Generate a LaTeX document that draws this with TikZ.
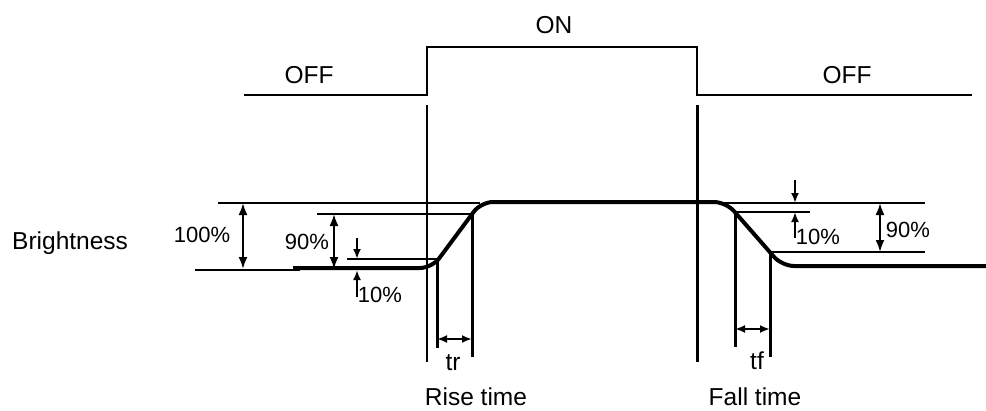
\documentclass[tikz,border=0pt]{standalone}
\usepackage{fontspec}
\setmainfont{Liberation Sans}
\usetikzlibrary{arrows.meta}
\begin{document}
\begin{tikzpicture}[x=1pt,y=-1pt,
  thinln/.style={line width=2.1pt},
  markln/.style={line width=3pt},
  thickln/.style={line width=4pt},
  dim/.style={line width=2pt,{Latex[length=12pt,width=9pt]}-{Latex[length=12pt,width=9pt]}},
  hdim/.style={line width=2pt,{Latex[length=10pt,width=8pt]}-{Latex[length=10pt,width=8pt]}},
  onearrow/.style={line width=2pt,-{Latex[length=10pt,width=8pt]}},
  lbl/.style={inner sep=0pt,font=\fontsize{24.5}{28}\selectfont},
  pct/.style={inner sep=0pt,font=\fontsize{22}{26}\selectfont}]
\useasboundingbox (0,0) rectangle (986,410);
% top signal
\draw[line width=2.5pt] (244,95) -- (427,95) -- (427,47) -- (697,47) -- (697,95) -- (972,95);
\node[lbl] (offl) at (309,75) {OFF};
\node[lbl] (on) at (554,25) {ON};
\node[lbl] (offr) at (847,75) {OFF};
% vertical markers
\draw[line width=1.8pt] (427,105) -- (427,362);
\draw[markln] (697,105) -- (697,362);
\draw[markln] (437,262) -- (437,348);
\draw[markln] (472,212) -- (472,357);
\draw[markln] (735,212) -- (735,347);
\draw[markln] (770,252) -- (770,357);
% level lines
\draw[thinln] (195,270) -- (300,270);
\draw[thinln] (218,203) -- (480,203);
\draw[thinln] (317,214) -- (470,214);
\draw[thinln] (347,259) -- (437,259);
\draw[thinln] (715,203) -- (925,203);
\draw[thinln] (735,212) -- (810,212);
\draw[thinln] (770,252) -- (925,252);
% brightness curve
\draw[thickln,rounded corners=12pt] (293,268) -- (432,268) -- (481,202) -- (726,202) -- (782,266) -- (986,266);
% dimension arrows
\coordinate (a1) at (243,203); \coordinate (a2) at (243,269);
\draw[dim] (a1) -- (a2);
\coordinate (b1) at (334,214); \coordinate (b2) at (334,269);
\draw[dim] (b1) -- (b2);
\coordinate (c1) at (357,238); \coordinate (c2) at (357,259);
\draw[onearrow] (c1) -- (c2);
\coordinate (c3) at (357,297); \coordinate (c4) at (357,270);
\draw[onearrow] (c3) -- (c4);
\coordinate (d1) at (795,180); \coordinate (d2) at (795,203);
\draw[onearrow] (d1) -- (d2);
\coordinate (d3) at (795,238); \coordinate (d4) at (795,212);
\draw[onearrow] (d3) -- (d4);
\coordinate (e1) at (880,203); \coordinate (e2) at (880,252);
\draw[dim] (e1) -- (e2);
\coordinate (f1) at (437,339); \coordinate (f2) at (472,339);
\draw[hdim] (f1) -- (f2);
\coordinate (g1) at (735,329); \coordinate (g2) at (770,329);
\draw[hdim] (g1) -- (g2);
% labels
\node[lbl,anchor=west] (bright) at (12,243) {Brightness};
\node[pct] (p100) at (202,235) {100\%};
\node[pct] (p90l) at (307,242) {90\%};
\node[pct] (p10l) at (380,295) {10\%};
\node[pct] (p10r) at (818,237) {10\%};
\node[pct] (p90r) at (908,230) {90\%};
\node[lbl] (tr) at (453,363) {tr};
\node[lbl] (rise) at (476,397) {Rise time};
\node[lbl] (tf) at (757,361) {tf};
\node[lbl] (fall) at (755,397) {Fall time};
\end{tikzpicture}
\end{document}
